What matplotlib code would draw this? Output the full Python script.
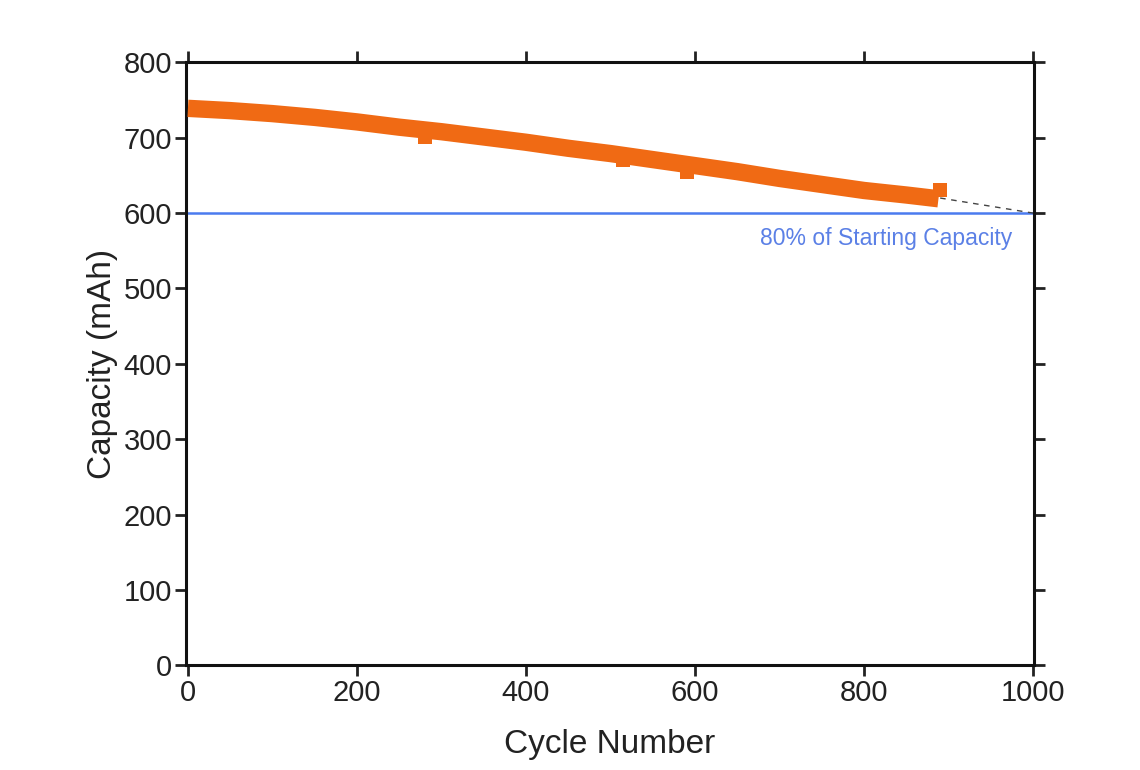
import numpy as np
import matplotlib
matplotlib.use('Agg')
import matplotlib.pyplot as plt

plt.rcParams['font.family'] = ['Liberation Sans', 'DejaVu Sans']

# capacity
cycles = [0, 50, 100, 150, 200, 250, 300, 350, 400, 450, 500, 550, 600,
          650, 700, 750, 800, 850, 888]
capacity = [739, 736, 732, 727, 721, 714, 708, 701, 694, 686, 679, 671, 663,
            655, 646, 638, 630, 624, 619]

# odd points that drop/jump off the trend
dip_cycles = [280, 515, 590, 890]
dip_capacity = [701, 670, 654, 631]

# extrapolation to 80 %
extrap_cycles = [890, 1000]
extrap_capacity = [620, 600]

limit = 600
orange = '#f06a14'

fig = plt.figure(figsize=(11.4, 7.7), dpi=100)
ax = fig.add_axes([0.163, 0.136, 0.744, 0.783])

ax.axhline(limit, color='#4a7bef', lw=1.8, zorder=1)
ax.plot(extrap_cycles, extrap_capacity, color='#444444', lw=1, ls=(0, (4, 4)), zorder=2)
ax.plot(cycles, capacity, color=orange, lw=12.5, solid_capstyle='butt', zorder=3)
ax.plot(dip_cycles, dip_capacity, 's', color=orange, ms=10.5, mew=0, zorder=3)
ax.text(975, 566, '80% of Starting Capacity', color='#5b80e6',
        fontsize=16.5, ha='right', va='center')

ax.set_xlim(-2.5, 1001)
ax.set_ylim(0, 800)
ax.set_xticks(np.arange(0, 1001, 200))
ax.set_yticks(np.arange(0, 801, 100))
ax.tick_params(direction='out', length=8, width=2, labelsize=21, colors='#222222',
               top=True, right=True, labeltop=False, labelright=False, pad=2)
for s in ax.spines.values():
    s.set_linewidth(2.2)
    s.set_color('#111111')

ax.set_xlabel('Cycle Number', fontsize=24, color='#222222', labelpad=16)
ax.set_ylabel('Capacity (mAh)', fontsize=24, color='#222222', labelpad=4)

fig.savefig('out.png', dpi=100)
